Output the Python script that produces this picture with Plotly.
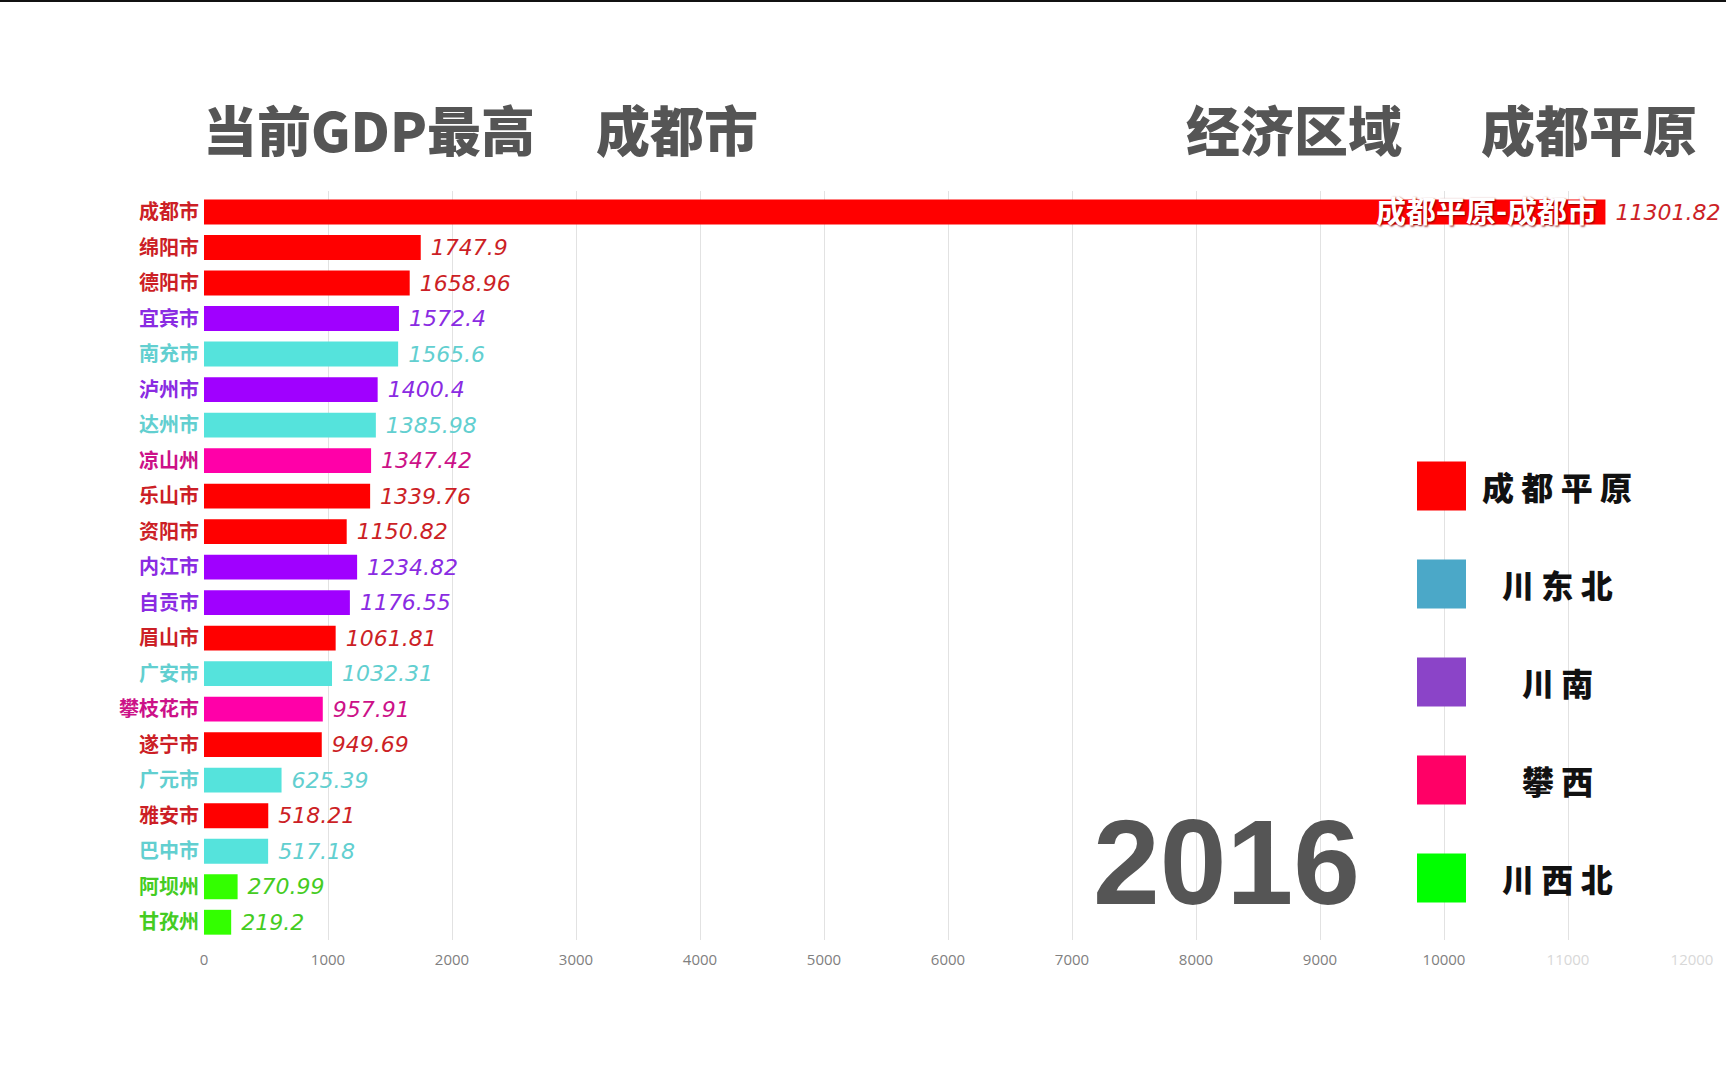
import plotly.graph_objects as go

# 2016 四川各市州 GDP（亿元），按当前帧的显示顺序
cities = ["成都市", "绵阳市", "德阳市", "宜宾市", "南充市", "泸州市", "达州市",
          "凉山州", "乐山市", "资阳市", "内江市", "自贡市", "眉山市", "广安市",
          "攀枝花市", "遂宁市", "广元市", "雅安市", "巴中市", "阿坝州", "甘孜州"]
gdp = [11301.82, 1747.9, 1658.96, 1572.4, 1565.6, 1400.4, 1385.98,
       1347.42, 1339.76, 1150.82, 1234.82, 1176.55, 1061.81, 1032.31,
       957.91, 949.69, 625.39, 518.21, 517.18, 270.99, 219.2]
regions = ["成都平原", "成都平原", "成都平原", "川南", "川东北", "川南", "川东北",
           "攀西", "成都平原", "成都平原", "川南", "川南", "成都平原", "川东北",
           "攀西", "成都平原", "川东北", "成都平原", "川东北", "川西北", "川西北"]

region_names = ["成都平原", "川东北", "川南", "攀西", "川西北"]
bar_colors = {"成都平原": "#FF0000", "川东北": "#55E3DC", "川南": "#A000FF",
              "攀西": "#FF00A8", "川西北": "#33FF00"}
text_colors = {"成都平原": "#CC1F26", "川东北": "#62CFD0", "川南": "#8A2BE2",
               "攀西": "#CC1188", "川西北": "#44CC22"}
legend_colors = {"成都平原": "#FF0000", "川东北": "#4BA8C8", "川南": "#8B44C8",
                 "攀西": "#FF0066", "川西北": "#00FF00"}

x_ticks = list(range(0, 13000, 1000))
year = "2016"
top_city = cities[0]
top_region = regions[0]

# page / plot geometry (pixels)
W, H = 1726, 1079
L, R, T, B = 204, 34, 191, 139


def px(x):
    return (x - L) / (W - L - R)


def py(y):
    return (H - B - y) / (H - T - B)


fig = go.Figure()
fig.add_trace(go.Bar(
    x=gdp, y=cities, orientation="h",
    marker=dict(color=[bar_colors[r] for r in regions], line=dict(width=0)),
    text=[" " + str(v) for v in gdp],
    textposition="outside",
    textfont=dict(family="DejaVu Sans", size=22, style="italic",
                  color=[text_colors[r] for r in regions]),
    constraintext="none",
    cliponaxis=False,
    hoverinfo="skip",
))

# y labels coloured by region
ytext = ["<b><span style='color:%s'>%s</span></b>" % (text_colors[r], c)
         for c, r in zip(cities, regions)]
xtext = []
for t in x_ticks:
    if t > 10000:
        xtext.append("<span style='color:#D8D8D8'>%d</span>" % t)
    else:
        xtext.append(str(t))

fig.update_layout(
    width=W, height=H,
    margin=dict(l=L, r=R, t=T, b=B, pad=0),
    paper_bgcolor="white", plot_bgcolor="white",
    bargap=0.3,
    showlegend=False,
    xaxis=dict(range=[0, 12000], tickvals=x_ticks, ticktext=xtext,
               showgrid=True, gridcolor="#E2E2E2", gridwidth=1,
               zeroline=False, showline=False, ticks="",
               ticklabelstandoff=9,
               tickfont=dict(family="Open Sans", size=15, color="#808080")),
    yaxis=dict(type="category", categoryorder="array", categoryarray=cities,
               autorange="reversed", tickvals=cities, ticktext=ytext,
               showgrid=False, zeroline=False, showline=False, ticks="",
               ticklabelstandoff=4,
               tickfont=dict(family="Noto Sans CJK SC", size=20)),
)

# thin dark frame line along the top edge
fig.add_shape(type="line", xref="paper", yref="paper",
              x0=px(0), x1=px(W), y0=py(1), y1=py(1),
              line=dict(color="#111111", width=2))

title_font = dict(family="Noto Sans CJK SC", size=54, color="#555555", weight=900)
titles = [("当前GDP最高", 201), (top_city, 594), ("经济区域", 1184), (top_region, 1479)]
for txt, xpos in titles:
    fig.add_annotation(x=px(xpos), y=py(129), xref="paper", yref="paper",
                       text=txt, showarrow=False, xanchor="left", yanchor="middle",
                       font=title_font)

# label inside the leading bar
fig.add_annotation(x=gdp[0], y=cities[0], xref="x", yref="y",
                   text=top_region + "-" + top_city, showarrow=False,
                   xanchor="right", yanchor="middle", xshift=-6, yshift=3,
                   font=dict(family="Noto Sans CJK SC", size=30, color="white",
                             weight="bold", shadow="1px 1px 2px #8B0000"))

# year
fig.add_annotation(x=px(1226), y=py(862), xref="paper", yref="paper",
                   text="<b>" + year + "</b>", showarrow=False,
                   xanchor="center", yanchor="middle",
                   font=dict(family="Liberation Sans", size=120, color="#555555"))

# region legend
for i, name in enumerate(region_names):
    yc = 486 + i * 98
    fig.add_shape(type="rect", xref="paper", yref="paper",
                  x0=px(1417), x1=px(1466), y0=py(yc - 24.5), y1=py(yc + 24.5),
                  fillcolor=legend_colors[name], line=dict(width=0))
    fig.add_annotation(x=px(1557), y=py(yc), xref="paper", yref="paper",
                       text=" ".join(name), showarrow=False,
                       xanchor="center", yanchor="middle",
                       font=dict(family="Noto Sans CJK SC", size=32,
                                 color="#111111", weight=900))

# page body margin would shift the whole figure by 8px
fig.write_html("out.html", config={"displayModeBar": False},
               post_script="document.body.style.margin='0';")
